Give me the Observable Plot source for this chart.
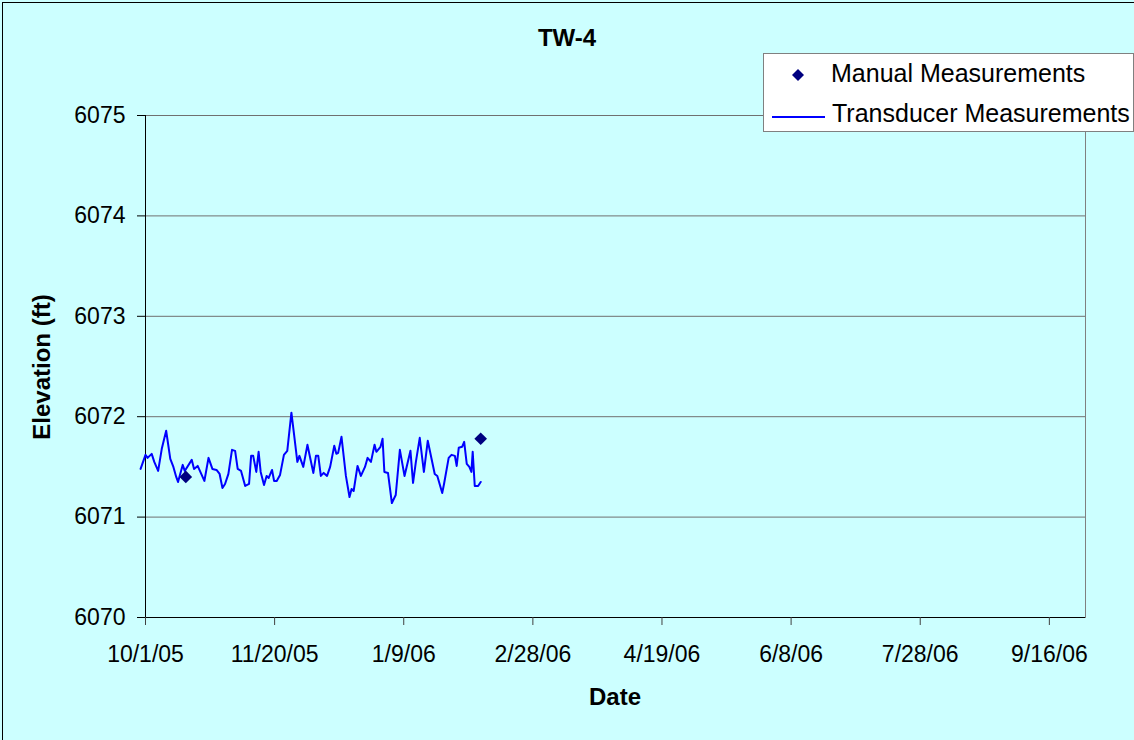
<!DOCTYPE html>
<html>
<head>
<meta charset="utf-8">
<script src="https://cdn.jsdelivr.net/npm/d3@7"></script>
<script src="https://cdn.jsdelivr.net/npm/@observablehq/plot@0.6"></script>
<style>
  html, body { margin: 0; padding: 0; background: #CCFFFF; }
  #wrap { position: relative; width: 1134px; height: 740px; overflow: hidden; background: #CCFFFF;
          font-family: "Liberation Sans", Arial, sans-serif; color: #000; }
  #border { position: absolute; left: 2px; top: 2px; width: 1140px; height: 745px; border: 1px solid #000; box-sizing: border-box; }
  .txt { position: absolute; line-height: 1; white-space: nowrap; }
  #title { left: 0; width: 1134px; top: 26px; text-align: center; font-weight: bold; font-size: 24px; }
  #xlab { left: 515px; width: 200px; top: 685px; text-align: center; font-weight: bold; font-size: 24px; }
  #ylab { left: 42px; top: 367px; font-weight: bold; font-size: 24px; transform: translate(-50%, -50%) rotate(-90deg); }
  #legend { position: absolute; left: 763px; top: 53px; width: 371px; height: 79px; background: #fff;
            border: 1px solid #808080; box-sizing: border-box; }
  #chart { position: absolute; left: 0; top: 0; }
</style>
</head>
<body>
<div id="wrap">
  <div id="chart"></div>
  <div id="border"></div>
  <div id="title" class="txt"></div>
  <div id="xlab" class="txt"></div>
  <div id="ylab" class="txt"></div>
  <div id="legend"></div>
</div>
<script>
// ---- data ----
const chartTitle = "TW-4";
const xAxisTitle = "Date";
const yAxisTitle = "Elevation (ft)";
const seriesNames = ["Manual Measurements", "Transducer Measurements"];

const originDate = "2005-10-01";   // day 0
const domainEnd = "2006-09-30";

// transducer record: day offsets from 10/1/05 and elevations (ft)
const transducerDays = [
  -1.9, 0, 0.8, 2.4, 3.4, 4.9, 6.3, 8.0, 9.6, 10.8,
  11.9, 12.6, 14.4, 15.2, 17.9, 18.8, 20.2, 22.8, 24.4, 25.9,
  27.5, 28.7, 29.8, 30.8, 32.1, 33.5, 34.7, 35.7, 37.0, 38.6,
  40.1, 40.9, 41.7, 42.9, 43.8, 44.6, 45.9, 46.9, 47.7, 49.0,
  49.8, 50.8, 52.1, 53.6, 54.9, 56.5, 57.5, 58.8, 59.6, 61.1,
  62.7, 65.0, 66.0, 66.9, 67.9, 69.0, 70.3, 71.5, 73.1, 73.9,
  74.6, 75.9, 77.6, 79.0, 79.8, 80.6, 82.1, 83.4, 85.0, 86.0,
  87.3, 88.7, 89.4, 91.0, 91.8, 92.5, 93.9, 95.4, 96.9, 98.5,
  100.3, 102.6, 103.6, 104.7, 106.2, 107.8, 109.3, 112.0, 113.0, 114.9,
  115.6, 117.4, 118.5, 119.8, 120.5, 121.3, 122.6, 123.4, 124.4, 125.4,
  126.2, 126.7, 127.5, 128.8, 129.8
];
const transducerElev = [
  6071.48, 6071.62, 6071.59, 6071.63, 6071.55, 6071.46, 6071.68, 6071.86, 6071.58, 6071.50,
  6071.40, 6071.35, 6071.52, 6071.46, 6071.57, 6071.48, 6071.51, 6071.36, 6071.59, 6071.48,
  6071.47, 6071.43, 6071.29, 6071.33, 6071.43, 6071.67, 6071.66, 6071.48, 6071.46, 6071.31,
  6071.33, 6071.61, 6071.61, 6071.45, 6071.65, 6071.45, 6071.32, 6071.41, 6071.39, 6071.47,
  6071.36, 6071.36, 6071.42, 6071.62, 6071.66, 6072.04, 6071.83, 6071.55, 6071.61, 6071.50,
  6071.72, 6071.44, 6071.61, 6071.61, 6071.41, 6071.44, 6071.41, 6071.50, 6071.71, 6071.63,
  6071.64, 6071.80, 6071.41, 6071.20, 6071.28, 6071.26, 6071.51, 6071.41, 6071.50, 6071.59,
  6071.55, 6071.72, 6071.65, 6071.70, 6071.78, 6071.45, 6071.44, 6071.14, 6071.22, 6071.67,
  6071.41, 6071.66, 6071.34, 6071.55, 6071.79, 6071.45, 6071.76, 6071.43, 6071.41, 6071.24,
  6071.33, 6071.59, 6071.62, 6071.61, 6071.51, 6071.69, 6071.70, 6071.75, 6071.53, 6071.50,
  6071.45, 6071.65, 6071.31, 6071.31, 6071.35
];

// manual measurements
const manualDays = [15.6, 129.8];
const manualElev = [6071.40, 6071.78];

// axes
const xTickDates = ["2005-10-01", "2005-11-20", "2006-01-09", "2006-02-28", "2006-04-19", "2006-06-08", "2006-07-28", "2006-09-16"];
const xTickLabels = ["10/1/05", "11/20/05", "1/9/06", "2/28/06", "4/19/06", "6/8/06", "7/28/06", "9/16/06"];
const yTicks = [6070, 6071, 6072, 6073, 6074, 6075];

// ---- build ----
const origin = new Date(originDate + "T00:00:00Z");
const toDate = d => new Date(origin.getTime() + d * 864e5);
const transducer = transducerDays.map((d, i) => ({date: toDate(d), elev: transducerElev[i]}));
const manual = manualDays.map((d, i) => ({date: toDate(d), elev: manualElev[i]}));
const tickDates = xTickDates.map(s => new Date(s + "T00:00:00Z"));
const labelByTime = new Map(tickDates.map((d, i) => [+d, xTickLabels[i]]));
const xStart = origin, xEnd = new Date(domainEnd + "T00:00:00Z");

const diamond = {
  draw(ctx, size) {
    const r = Math.sqrt(size) * 0.62625;
    ctx.moveTo(0, -r); ctx.lineTo(r, 0); ctx.lineTo(0, r); ctx.lineTo(-r, 0); ctx.closePath();
  }
};

const chart = Plot.plot({
  width: 1134,
  height: 740,
  marginLeft: 145,
  marginRight: 49,
  marginTop: 115,
  marginBottom: 123,
  style: {background: "transparent", fontFamily: "'Liberation Sans', Arial, sans-serif", fontSize: "23px", color: "#000", overflow: "visible"},
  x: {type: "utc", domain: [xStart, xEnd], axis: null},
  y: {domain: [6070, 6075], axis: null},
  marks: [
    Plot.frame({stroke: "#808080"}),
    Plot.ruleY(yTicks.slice(1), {stroke: "#707070", strokeWidth: 1}),
    Plot.ruleY([yTicks[0]], {stroke: "#000", strokeWidth: 1}),
    Plot.ruleX([xStart], {stroke: "#000", strokeWidth: 1}),
    Plot.axisY(yTicks, {tickSize: 8, tickPadding: 12, stroke: "#000", fill: "#000", label: null, fontSize: 23,
      tickFormat: d => String(d)}),
    Plot.axisX(tickDates, {tickSize: 8, tickPadding: 20, stroke: "#404040", fill: "#000", label: null, fontSize: 23,
      tickFormat: d => labelByTime.get(+d)}),
    Plot.line(transducer, {x: "date", y: "elev", stroke: "#0000FF", strokeWidth: 2}),
    Plot.dot(manual, {x: "date", y: "elev", symbol: diamond, r: 5.7, fill: "#000080", stroke: "none"})
  ]
});
document.getElementById("chart").appendChild(chart);

document.getElementById("title").textContent = chartTitle;
document.getElementById("xlab").textContent = xAxisTitle;
document.getElementById("ylab").textContent = yAxisTitle;

// legend
const legend = document.getElementById("legend");
legend.innerHTML = `
  <svg width="40" height="20" style="position:absolute;left:14px;top:11px">
    <path d="M20,4 L26,10 L20,16 L14,10 Z" fill="#000080"/>
  </svg>
  <div class="txt" style="left:67px;top:7px;font-size:25px">${seriesNames[0]}</div>
  <svg width="60" height="10" style="position:absolute;left:8px;top:58px">
    <line x1="0" y1="5" x2="53" y2="5" stroke="#0000FF" stroke-width="2"/>
  </svg>
  <div class="txt" style="left:68px;top:47px;font-size:25px">${seriesNames[1]}</div>
`;
</script>
</body>
</html>
